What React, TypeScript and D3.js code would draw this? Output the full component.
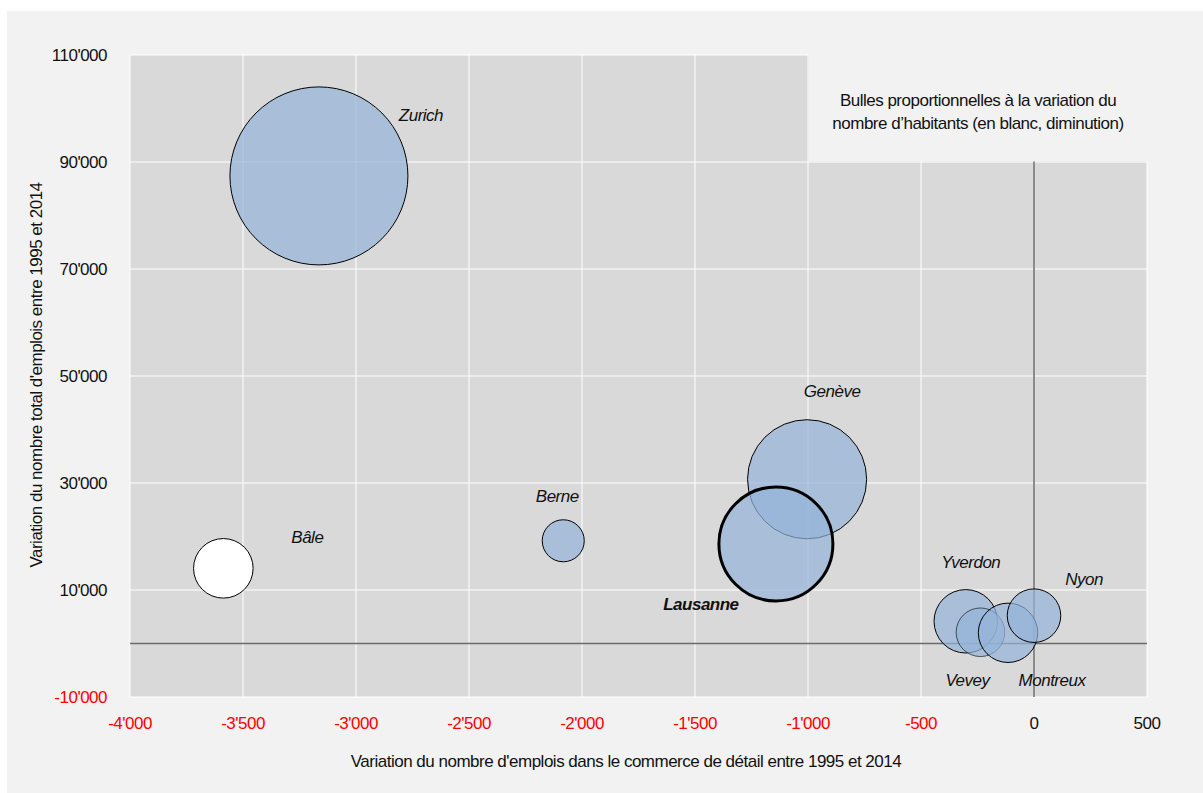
import * as d3 from 'd3'

const W = 1203
const H = 793

// data
const cities = ['Zurich', 'Bâle', 'Berne', 'Genève', 'Lausanne', 'Yverdon', 'Vevey', 'Montreux', 'Nyon']
const retailJobs = [-3164, -3587, -2083, -1004, -1142, -302, -237, -115, 0]
const totalJobs = [87400, 14050, 19200, 30700, 18600, 4150, 2100, 2000, 5200]
const popChange = [40000, -4480, 2230, 17900, 16400, 5080, 2980, 4450, 3620]

const xTicks = [-4000, -3500, -3000, -2500, -2000, -1500, -1000, -500, 0, 500]
const yTicks = [-10000, 10000, 30000, 50000, 70000, 90000, 110000]

// label placement relative to the bubble centre (px)
const labelOffset: Record<string, [number, number]> = {
  Zurich: [102, -55],
  Bâle: [84, -25],
  Berne: [-6, -39],
  Genève: [25, -82],
  Lausanne: [-75, 66],
  Yverdon: [5, -53],
  Vevey: [-13, 54],
  Montreux: [44, 53],
  Nyon: [50, -31],
}

const FONT = '"Liberation Sans", Arial, sans-serif'
const FS = 17
const LS = '-0.5px'
const fmt = d3.formatLocale({ decimal: '.', thousands: "'", grouping: [3], currency: ['', ''], minus: '-' }).format(',')

export default function App() {
  const x = d3.scaleLinear([-4000, 500], [130, 1147])
  const y = d3.scaleLinear([-10000, 110000], [697, 55])
  const r = d3.scaleSqrt([0, 40000], [0, 89])

  const data = cities.map((name, i) => ({
    name,
    cx: x(retailJobs[i]),
    cy: y(totalJobs[i]),
    pop: popChange[i],
  }))

  return (
    <svg
      width={W}
      height={H}
      style={{ position: 'absolute', left: 0, top: 0, fontFamily: FONT, letterSpacing: LS }}
    >
      <rect x={7} y={11} width={W - 7} height={H - 11} fill="#f2f2f2" />
      <rect x={130} y={55} width={1147 - 130} height={697 - 55} fill="#d9d9d9" />

      {xTicks.map((t) => (
        <line key={'gx' + t} x1={x(t)} x2={x(t)} y1={55} y2={697} stroke="#fff" strokeWidth={1} />
      ))}
      {yTicks.map((t) => (
        <line key={'gy' + t} x1={130} x2={1147} y1={y(t)} y2={y(t)} stroke="#fff" strokeWidth={1} />
      ))}

      <line x1={130} x2={1147} y1={y(0)} y2={y(0)} stroke="#6b6b6b" strokeWidth={1.5} />
      <line x1={x(0)} x2={x(0)} y1={55} y2={697} stroke="#6b6b6b" strokeWidth={1.5} />

      {/* legend box masks the top-right corner */}
      <rect x={x(-1000) + 0.5} y={54} width={1148 - x(-1000)} height={y(90000) - 54.5} fill="#f2f2f2" />
      <text x={978} y={106} textAnchor="middle" fontSize={FS} fill="#111">
        Bulles proportionnelles à la variation du
      </text>
      <text x={978} y={129} textAnchor="middle" fontSize={FS} fill="#111">
        nombre d’habitants (en blanc, diminution)
      </text>

      {data.map((d) => (
        <circle
          key={d.name}
          cx={d.cx}
          cy={d.cy}
          r={r(Math.abs(d.pop))}
          fill={d.pop < 0 ? '#ffffff' : 'rgba(148,180,216,0.7)'}
          stroke="#000"
          strokeOpacity={d.name === 'Vevey' ? 0.6 : 1}
          strokeWidth={d.name === 'Lausanne' ? 3 : 1}
        />
      ))}

      {data.map((d) => {
        const [dx, dy] = labelOffset[d.name]
        return (
          <text
            key={'l' + d.name}
            x={d.cx + dx}
            y={d.cy + dy}
            textAnchor="middle"
            fontSize={FS}
            fontStyle="italic"
            fontWeight={d.name === 'Lausanne' ? 'bold' : 'normal'}
            fill="#111"
          >
            {d.name}
          </text>
        )
      })}

      {yTicks.map((t) => (
        <text
          key={'ty' + t}
          x={107}
          y={y(t)}
          dy="0.35em"
          textAnchor="end"
          fontSize={FS}
          fill={t < 0 ? '#ff0000' : '#111'}
        >
          {fmt(t)}
        </text>
      ))}
      {xTicks.map((t) => (
        <text
          key={'tx' + t}
          x={x(t)}
          y={729}
          textAnchor="middle"
          fontSize={FS}
          fill={t < 0 ? '#ff0000' : '#111'}
        >
          {fmt(t)}
        </text>
      ))}

      <text x={626} y={767} textAnchor="middle" fontSize={FS} fill="#111">
        Variation du nombre d'emplois dans le commerce de détail entre 1995 et 2014
      </text>
      <text
        transform={`translate(42,375) rotate(-90)`}
        textAnchor="middle"
        fontSize={FS}
        fill="#111"
      >
        Variation du nombre total d'emplois entre 1995 et 2014
      </text>
    </svg>
  )
}
